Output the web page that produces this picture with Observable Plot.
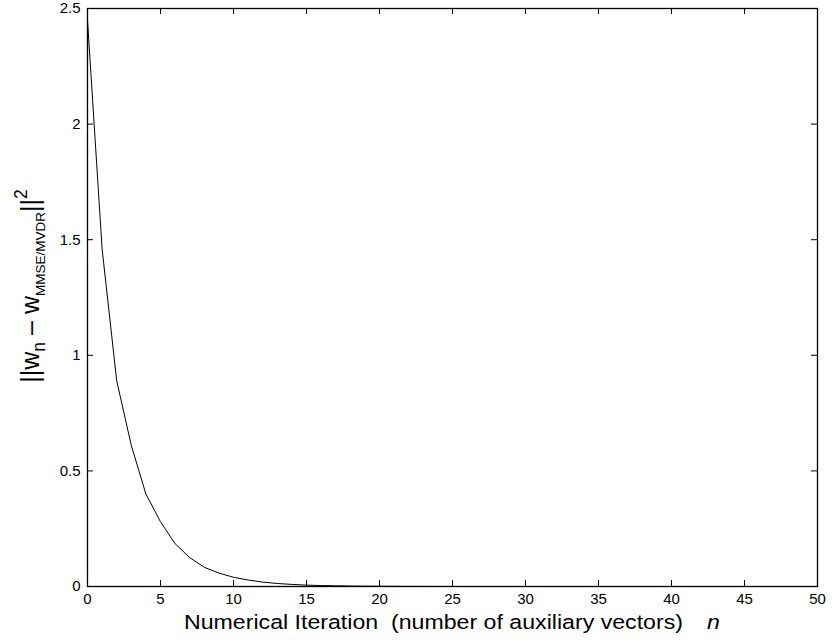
<!DOCTYPE html>
<html>
<head>
<meta charset="utf-8">
<script src="https://cdn.jsdelivr.net/npm/d3@7"></script>
<script src="https://cdn.jsdelivr.net/npm/@observablehq/plot@0.6"></script>
<style>
  body { margin: 0; background: #fff; }
  #chart svg { display: block; }
</style>
</head>
<body>
<div id="chart"></div>
<script>
// Iteration index n (number of auxiliary vectors)
const iterations = [0,1,2,3,4,5,6,7,8,9,10,11,12,13,14,15,16,17,18,19,20,21,22,23,24,25,
  26,27,28,29,30,31,32,33,34,35,36,37,38,39,40,41,42,43,44,45,46,47,48,49,50];
// ||w_n - w_MMSE/MVDR||^2
const errorValues = [2.45,1.46,0.89,0.61,0.40,0.28,0.185,0.125,0.083,0.058,0.040,0.028,0.019,0.013,0.009,0.006,
  0.004,0.003,0.002,0.0014,0.001,0.0007,0.0005,0.0003,0.0002,0.0001,
  0,0,0,0,0,0,0,0,0,0,0,0,0,0,0,0,0,0,0,0,0,0,0,0,0];
const xTicks = [0,5,10,15,20,25,30,35,40,45,50];
const yTicks = [0,0.5,1,1.5,2,2.5];

const data = iterations.map((n, i) => ({n, v: errorValues[i]}));

const W = 839, H = 640;
const mL = 87, mR = 22, mT = 8, mB = 54;
const innerH = H - mT - mB;
const innerW = W - mL - mR;
const tickLen = 6;
const FONT = "'Liberation Sans', Arial, Helvetica, sans-serif";

const chart = Plot.plot({
  width: W,
  height: H,
  marginLeft: mL,
  marginRight: mR,
  marginTop: mT,
  marginBottom: mB,
  style: {fontFamily: FONT, fontSize: "15px", color: "black", background: "white"},
  x: {domain: [0, 50]},
  y: {domain: [0, 2.5]},
  marks: [
    Plot.tickX(xTicks, {x: d => d, insetTop: innerH - tickLen, stroke: "black", strokeWidth: 1}),
    Plot.tickX(xTicks, {x: d => d, insetBottom: innerH - tickLen, stroke: "black", strokeWidth: 1}),
    Plot.tickY(yTicks, {y: d => d, insetRight: innerW - tickLen, stroke: "black", strokeWidth: 1}),
    Plot.tickY(yTicks, {y: d => d, insetLeft: innerW - tickLen, stroke: "black", strokeWidth: 1}),
    Plot.line(data, {x: "n", y: "v", stroke: "black", strokeWidth: 1}),
    Plot.frame({stroke: "black", strokeWidth: 1.3}),
    Plot.axisX(xTicks, {tickSize: 0, tickPadding: 7, label: null, tickFormat: d => String(d), fontSize: 15}),
    Plot.axisY(yTicks, {tickSize: 0, tickPadding: 7, label: null, tickFormat: d => String(d), fontSize: 15})
  ]
});

const svg = d3.select(chart);

// X label (reference glyphs are stretched horizontally)
const xl = svg.append("text")
  .attr("transform", "translate(184,629) scale(1.2,1)")
  .attr("x", 0).attr("y", 0)
  .attr("text-anchor", "start")
  .attr("font-family", FONT)
  .attr("font-size", 19.3)
  .attr("fill", "black")
  .style("white-space", "pre");
xl.append("tspan").text("Numerical Iteration  (number of auxiliary vectors)");
xl.append("tspan").attr("dx", 20).attr("font-style", "italic").text("n");

// Y label
const yl = svg.append("text")
  .attr("transform", "translate(39,286) rotate(-90)")
  .attr("text-anchor", "middle")
  .attr("font-family", FONT)
  .attr("font-size", 25)
  .attr("fill", "black")
  .style("white-space", "pre");
yl.append("tspan").text("||w");
yl.append("tspan").attr("font-size", 17.5).attr("dy", 6).text("n");
yl.append("tspan").attr("dy", -6).text(" \u2013 w");
yl.append("tspan").attr("font-size", 13.5).attr("dy", 6).text("MMSE/MVDR");
yl.append("tspan").attr("dy", -6).text("||");
yl.append("tspan").attr("font-size", 17.5).attr("dy", -12).text("2");

document.getElementById("chart").append(chart);
</script>
</body>
</html>
